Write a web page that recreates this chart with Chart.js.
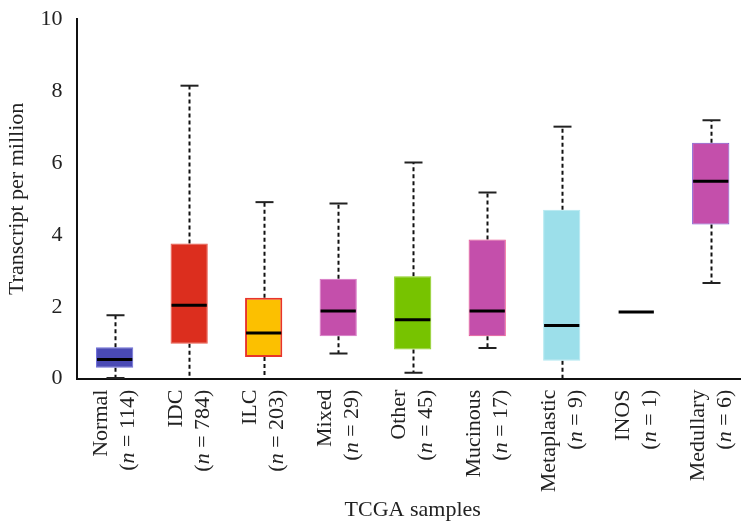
<!DOCTYPE html>
<html>
<head>
<meta charset="utf-8">
<script src="https://cdn.jsdelivr.net/npm/chart.js@4"></script>
<style>
html,body{margin:0;padding:0;background:#fff;overflow:hidden;width:741px;height:526px;}
#wrap{position:absolute;left:0;top:0;width:752px;height:526px;}
</style>
</head>
<body>
<div id="wrap"><canvas id="c" width="752" height="526"></canvas></div>
<script>
// ---- data ----
const categories = ['Normal','IDC','ILC','Mixed','Other','Mucinous','Metaplastic','INOS','Medullary'];
const sampleSizes = ['114','784','203','29','45','17','9','1','6'];
const whiskerLow  = [0.02, 0.00, 0.00, 0.70, 0.16, 0.85, 0.00, null, 2.66];
const q1Values    = [0.30, 0.97, 0.60, 1.18, 0.81, 1.18, 0.50, null, 4.29];
const medians     = [0.53, 2.04, 1.27, 1.88, 1.64, 1.88, 1.48, 1.85, 5.49];
const q3Values    = [0.87, 3.76, 2.25, 2.78, 2.85, 3.87, 4.70, null, 6.56];
const whiskerHigh = [1.76, 8.15, 4.91, 4.87, 6.01, 5.18, 7.01, null, 7.19];
const yTicks      = [0, 2, 4, 6, 8, 10];

const fillColors   = ['#4a4ab5','#dc2e1e','#fcc000','#c44fab','#77c300','#c44fab','#9cdfea','#000000','#c44fab'];
const borderColors = ['#6e6ed8','#e8574a','#e8342a','#d873c4','#8fd024','#ec4f8a','#b4e9f1','#000000','#7a55d0'];
const borderWidths = [1,1,2,1,1,1,1,0,1];

const boxes = categories.map((c,i)=> q1Values[i]==null ? null : [q1Values[i], q3Values[i]]);
const SERIF = '"Liberation Serif", "DejaVu Serif", serif';
const FS = 22;

const boxPlugin = {
  id: 'boxExtras',
  beforeDatasetsDraw(chart){
    const ctx = chart.ctx, x = chart.scales.x, y = chart.scales.y;
    ctx.save();
    categories.forEach((c,i)=>{
      if (whiskerHigh[i]==null) return;
      const cx = Math.round(x.getPixelForValue(i)) + 0.5;
      ctx.strokeStyle = '#111';
      ctx.lineWidth = 2;
      ctx.setLineDash([4,3]);
      ctx.beginPath();
      ctx.moveTo(cx, y.getPixelForValue(q3Values[i]));
      ctx.lineTo(cx, y.getPixelForValue(whiskerHigh[i]));
      ctx.moveTo(cx, y.getPixelForValue(q1Values[i]));
      ctx.lineTo(cx, y.getPixelForValue(whiskerLow[i]));
      ctx.stroke();
      ctx.setLineDash([]);
      ctx.strokeStyle = '#222';
      ctx.beginPath();
      const hw = 9;
      if (whiskerHigh[i] !== q3Values[i]) {
        const yt = y.getPixelForValue(whiskerHigh[i]);
        ctx.moveTo(cx-hw, yt); ctx.lineTo(cx+hw, yt);
      }
      if (whiskerLow[i] > 0) {
        const yb = y.getPixelForValue(whiskerLow[i]);
        ctx.moveTo(cx-hw, yb); ctx.lineTo(cx+hw, yb);
      }
      ctx.stroke();
    });
    ctx.restore();
  },
  afterDatasetsDraw(chart){
    const ctx = chart.ctx, x = chart.scales.x, y = chart.scales.y;
    const meta = chart.getDatasetMeta(0);
    const bw = meta.data.find(e=>e && e.width)?.width || 37;
    ctx.save();
    ctx.strokeStyle = '#000';
    ctx.lineWidth = 3;
    categories.forEach((c,i)=>{
      const cx = x.getPixelForValue(i);
      const my = y.getPixelForValue(medians[i]);
      ctx.beginPath();
      ctx.moveTo(cx - bw/2 + 1, my);
      ctx.lineTo(cx + bw/2 - 1, my);
      ctx.stroke();
    });
    ctx.restore();
  },
  afterDraw(chart){
    const ctx = chart.ctx, x = chart.scales.x, area = chart.chartArea;
    ctx.save();
    ctx.fillStyle = '#222';
    ctx.textBaseline = 'middle';
    const top = area.bottom + 11;
    categories.forEach((c,i)=>{
      const cx = x.getPixelForValue(i);
      ctx.save();
      ctx.translate(cx - 13, top);
      ctx.rotate(-Math.PI/2);
      ctx.font = FS + 'px ' + SERIF;
      ctx.textAlign = 'right';
      ctx.fillText(c, 0, 0);
      ctx.restore();
      ctx.save();
      ctx.translate(cx + 14, top);
      ctx.rotate(-Math.PI/2);
      ctx.textAlign = 'left';
      const reg = FS + 'px ' + SERIF, ita = 'italic ' + FS + 'px ' + SERIF;
      const parts = [['(',reg],['n',ita],[' = ' + sampleSizes[i] + ')',reg]];
      let total = 0;
      parts.forEach(p=>{ctx.font=p[1]; total += ctx.measureText(p[0]).width;});
      let pos = -total;
      parts.forEach(p=>{ctx.font=p[1]; ctx.fillText(p[0], pos, 0); pos += ctx.measureText(p[0]).width;});
      ctx.restore();
    });
    ctx.restore();
  }
};

new Chart(document.getElementById('c'), {
  type: 'bar',
  data: {
    labels: categories,
    datasets: [{
      data: boxes,
      backgroundColor: fillColors,
      borderColor: borderColors,
      borderWidth: borderWidths,
      borderSkipped: false,
      categoryPercentage: 0.5,
      barPercentage: 1.0
    }]
  },
  options: {
    responsive: false,
    animation: false,
    events: [],
    layout: { padding: { top: 2, right: 4, left: 4, bottom: 0 } },
    plugins: { legend: { display: false }, tooltip: { enabled: false } },
    scales: {
      x: {
        offset: true,
        grid: { display: false, drawTicks: false },
        border: { display: true, color: '#111', width: 2 },
        ticks: { display: false },
        title: {
          display: true, text: 'TCGA samples', color: '#222',
          font: { family: SERIF, size: FS },
          padding: { top: 118, bottom: 3 }
        }
      },
      y: {
        min: 0, max: 10,
        afterBuildTicks(axis){ axis.ticks = yTicks.map(v=>({value:v})); },
        grid: { display: false, drawOnChartArea: false, drawTicks: true, tickLength: 9, tickColor: '#111', tickWidth: 2 },
        border: { display: true, color: '#111', width: 2 },
        ticks: { color: '#222', font: { family: SERIF, size: FS }, padding: 6 },
        title: {
          display: true, text: 'Transcript per million', color: '#222',
          font: { family: SERIF, size: FS },
          padding: { top: 0, bottom: 4 }
        }
      }
    }
  },
  plugins: [boxPlugin]
});
</script>
</body>
</html>
